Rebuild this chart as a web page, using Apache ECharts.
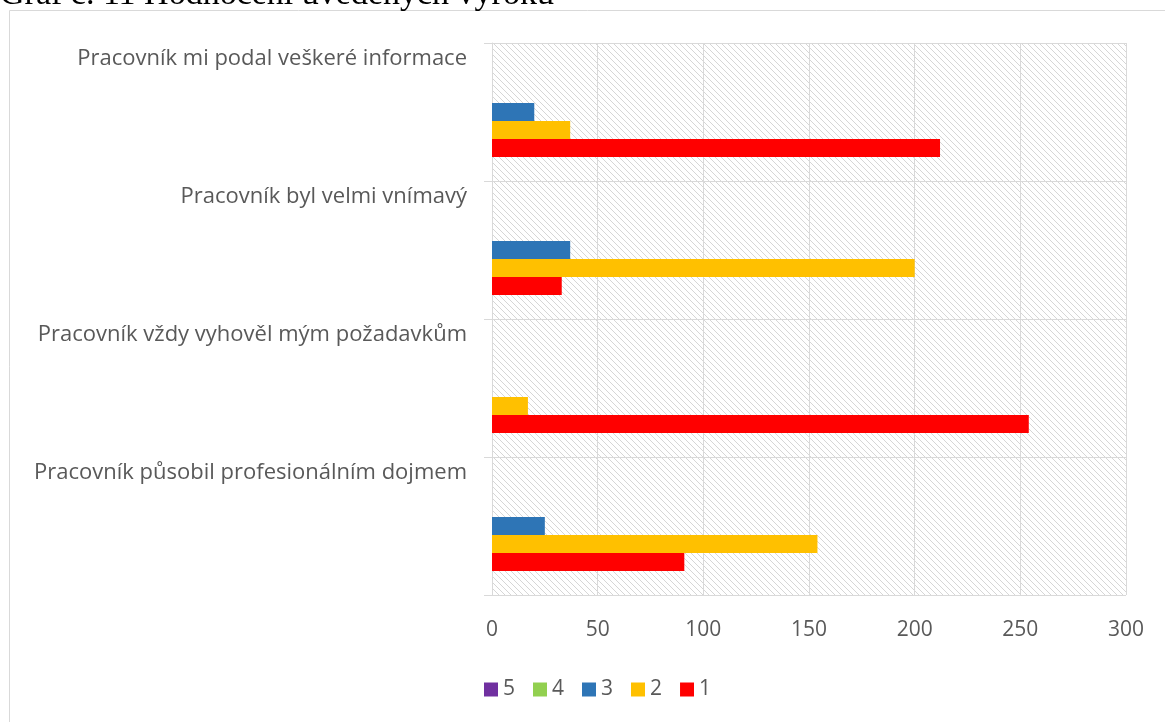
<!DOCTYPE html>
<html>
<head>
<meta charset="utf-8">
<script src="https://cdn.jsdelivr.net/npm/echarts@6/dist/echarts.min.js"></script>
<style>
  html, body { margin: 0; padding: 0; background: #fff; }
  #chart { width: 1165px; height: 722px; }
</style>
</head>
<body>
<div id="chart"></div>
<script>
// categories, top to bottom
const categories = [
  'Pracovník mi podal veškeré informace',
  'Pracovník byl velmi vnímavý',
  'Pracovník vždy vyhověl mým požadavkům',
  'Pracovník působil profesionálním dojmem'
];
const seriesNames = ['5', '4', '3', '2', '1'];
const values5 = [0, 0, 0, 0];
const values4 = [0, 0, 0, 0];
const values3 = [20, 37, 0, 25];
const values2 = [37, 200, 17, 154];
const values1 = [212, 33, 254, 91];
const xTicks = [0, 50, 100, 150, 200, 250, 300];

const colors = ['#7030A0', '#92D050', '#2E75B6', '#FFC000', '#FF0000'];
const seriesData = [values5, values4, values3, values2, values1];

// diagonal hatch for the plot area
function hatch() {
  const c = document.createElement('canvas');
  c.width = 6; c.height = 6;
  const ctx = c.getContext('2d');
  ctx.fillStyle = '#fff';
  ctx.fillRect(0, 0, 6, 6);
  ctx.fillStyle = '#d6d6d6';
  for (let i = 0; i < 6; i++) {
    ctx.fillRect(i, i, 1, 1);
  }
  return c;
}

const chart = echarts.init(document.getElementById('chart'));
const labelColor = '#595959';
const font = '"Open Sans"';

const option = {
  animation: false,
  color: colors,
  graphic: [
    {
      type: 'rect',
      shape: { x: 9.5, y: 10.5, width: 1200, height: 800 },
      style: { fill: 'none', stroke: '#d9d9d9', lineWidth: 1 },
      silent: true
    },
    {
      type: 'text',
      left: 0,
      top: -22,
      style: {
        text: 'Graf č. 11 Hodnocení uvedených výroků',
        font: '34px "Liberation Serif"',
        fill: '#000'
      }
    }
  ],
  grid: {
    left: 492,
    right: 39,
    top: 43,
    bottom: 127,
    show: true,
    borderWidth: 0,
    backgroundColor: { image: hatch(), repeat: 'repeat' }
  },
  legend: {
    data: seriesNames,
    left: 479,
    top: 674,
    itemWidth: 14,
    itemHeight: 14,
    itemGap: 18,
    icon: 'rect',
    textStyle: { fontFamily: font, fontSize: 21, color: labelColor }
  },
  xAxis: {
    type: 'value',
    min: 0,
    max: 300,
    interval: 50,
    axisLine: { show: false },
    axisTick: { show: false },
    splitLine: { show: true, lineStyle: { color: '#d9d9d9', width: 1 } },
    axisLabel: {
      margin: 25,
      fontFamily: font,
      fontSize: 21,
      color: labelColor,
      formatter: v => xTicks.indexOf(v) >= 0 ? String(v) : ''
    }
  },
  yAxis: {
    type: 'category',
    data: categories,
    inverse: true,
    axisLine: { show: true, lineStyle: { color: '#d9d9d9' } },
    axisTick: { show: true, length: 8, lineStyle: { color: '#d9d9d9' } },
    splitLine: { show: true, lineStyle: { color: '#d9d9d9' } },
    axisLabel: {
      interval: 0,
      margin: 25,
      fontFamily: font,
      fontSize: 22,
      color: labelColor,
      verticalAlign: 'middle',
      lineHeight: 106,
      // push the label to the top of its band
      formatter: v => v + '\n '
    }
  },
  series: seriesNames.map((name, i) => ({
    name: name,
    type: 'bar',
    data: seriesData[i],
    barWidth: 18,
    barGap: '0%'
  }))
};

chart.setOption(option);
</script>
</body>
</html>
